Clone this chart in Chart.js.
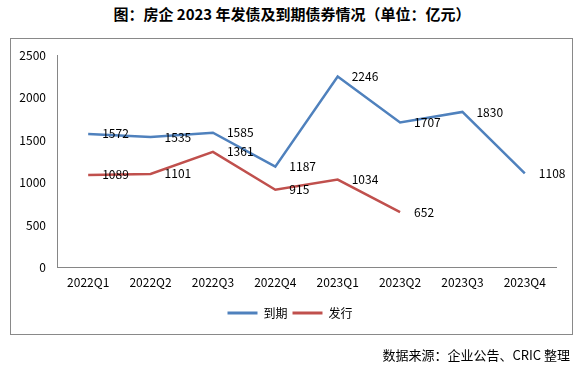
<!DOCTYPE html>
<html>
<head>
<meta charset="utf-8">
<script src="https://cdn.jsdelivr.net/npm/chart.js@4.4.0/dist/chart.umd.min.js"></script>
<style>
  body { margin: 0; background: #fff; font-family: "Noto Sans CJK SC", sans-serif; }
  #wrap { position: relative; width: 580px; height: 369px; }
  #title { position: absolute; left: 0; width: 584px; top: 3px; text-align: center;
           font-size: 15px; font-weight: bold; color: #000; line-height: 22px; }
  #box { position: absolute; left: 10px; top: 38px; width: 561px; height: 295px;
         border: 1px solid #898989; }
  #canvas { position: absolute; left: 0; top: 0; }
  #source { position: absolute; right: 10px; top: 346px; font-size: 13px; color: #000; line-height: 18px; }
</style>
</head>
<body>
<div id="wrap">
  <div id="title">图：房企 2023 年发债及到期债券情况（单位：亿元）</div>
  <div id="box"></div>
  <canvas id="canvas" width="580" height="369"></canvas>
  <div id="source">数据来源：企业公告、CRIC 整理</div>
</div>
<script>
const quarters = ['2022Q1', '2022Q2', '2022Q3', '2022Q4', '2023Q1', '2023Q2', '2023Q3', '2023Q4'];
const maturing = [1572, 1535, 1585, 1187, 2246, 1707, 1830, 1108];
const issued = [1089, 1101, 1361, 915, 1034, 652, null, null];
const yTicks = [0, 500, 1000, 1500, 2000, 2500];

const fontFamily = '"Noto Sans CJK SC", sans-serif';
const blue = '#4F81BD';
const red = '#C0504D';

// value labels to the right of each point
const pointLabels = {
  id: 'pointLabels',
  afterDatasetsDraw(chart) {
    const ctx = chart.ctx;
    ctx.save();
    ctx.font = '12px ' + fontFamily;
    ctx.fillStyle = '#000';
    ctx.textAlign = 'left';
    ctx.textBaseline = 'middle';
    chart.data.datasets.forEach((ds, i) => {
      chart.getDatasetMeta(i).data.forEach((pt, j) => {
        const v = ds.data[j];
        if (v === null || v === undefined) return;
        ctx.fillText(String(v), pt.x + 14, pt.y);
      });
    });
    ctx.restore();
  }
};

// center the legend on the page rather than on the padded area
const legendShift = {
  id: 'legendShift',
  beforeDraw(chart) {
    if (chart.legend) chart.legend.left = 24;
  }
};

const ctx = document.getElementById('canvas');
const myChart = new Chart(ctx, {
  type: 'line',
  data: {
    labels: quarters,
    datasets: [{
      label: '到期',
      data: maturing,
      borderColor: blue,
      backgroundColor: blue,
      borderWidth: 2.5,
      pointRadius: 0,
      tension: 0
    }, {
      label: '发行',
      data: issued,
      borderColor: red,
      backgroundColor: red,
      borderWidth: 2.5,
      pointRadius: 0,
      tension: 0
    }]
  },
  options: {
    responsive: false,
    animation: false,
    layout: { padding: { left: 0, right: 24, top: 55, bottom: 40 } },
    plugins: {
      tooltip: { enabled: false },
      legend: {
        position: 'bottom',
        labels: {
          boxWidth: 30,
          boxHeight: 3,
          padding: 5,
          color: '#000',
          font: { family: fontFamily, size: 12 },
          generateLabels(chart) {
            const items = Chart.defaults.plugins.legend.labels.generateLabels(chart);
            items.forEach(it => { it.lineWidth = 0; });
            return items;
          }
        }
      }
    },
    scales: {
      x: {
        offset: true,
        grid: { display: false, drawTicks: false },
        border: { display: true, color: '#868686', width: 1 },
        ticks: { color: '#000', padding: 8, maxRotation: 0, font: { family: fontFamily, size: 12 } },
        afterFit(scale) { scale.height = 34.5; }
      },
      y: {
        min: 0,
        max: 2500,
        afterBuildTicks(scale) { scale.ticks = yTicks.map(v => ({ value: v })); },
        grid: { display: false, drawTicks: false },
        border: { display: true, color: '#868686', width: 1 },
        ticks: {
          color: '#000', padding: 11, font: { family: fontFamily, size: 12 },
          callback: v => String(v)
        },
        afterFit(scale) { scale.width = 57; }
      }
    }
  },
  plugins: [pointLabels, legendShift]
});
</script>
</body>
</html>
